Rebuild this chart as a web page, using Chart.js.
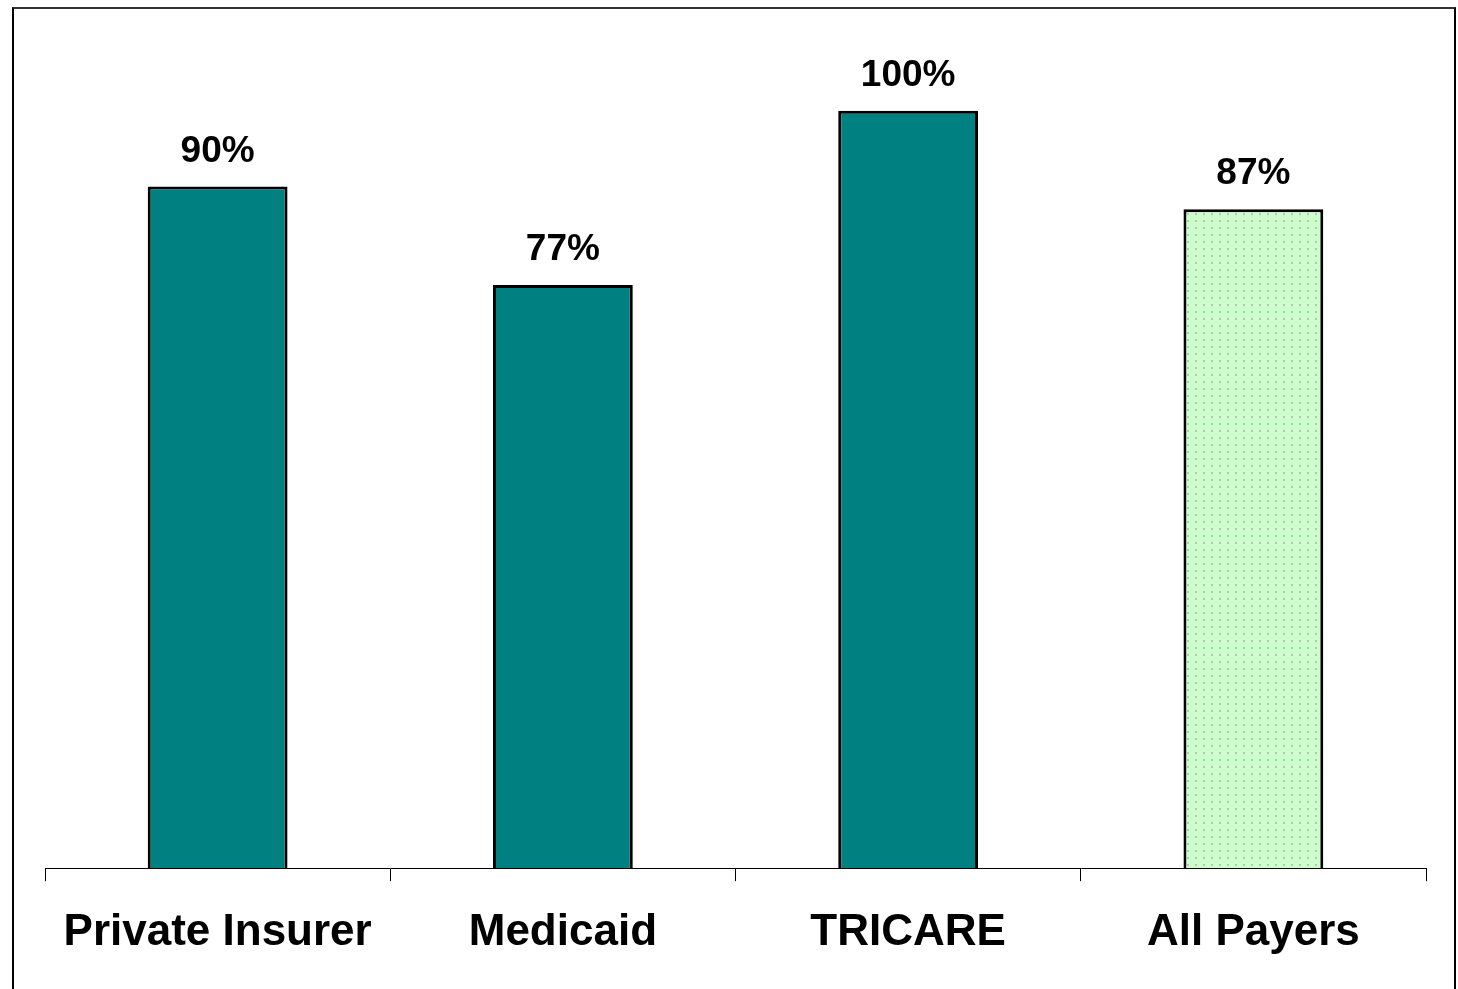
<!DOCTYPE html>
<html>
<head>
<meta charset="utf-8">
<script src="https://cdn.jsdelivr.net/npm/chart.js@4.4.0/dist/chart.umd.min.js"></script>
<style>
    html, body { margin: 0; padding: 0; background: #fff; }
    #wrap { position: absolute; left: 12px; top: 7px; width: 1444px; height: 990px;
            border-left: 2px solid #000; border-top: 2px solid #333; border-right: 2px solid #000;
            box-sizing: border-box; }
    #c { position: absolute; left: 0; top: 0; }
</style>
</head>
<body>
<div id="wrap"></div>
<canvas id="c" width="1458" height="989"></canvas>
<script>
const categories = ['Private Insurer', 'Medicaid', 'TRICARE', 'All Payers'];
const values = [90, 77, 100, 87];
const valueLabels = ['90%', '77%', '100%', '87%'];

// dotted light green fill for the "All Payers" bar
function dotPattern() {
    const p = document.createElement('canvas');
    p.width = 8; p.height = 7;
    const g = p.getContext('2d');
    g.fillStyle = '#ccffcc';
    g.fillRect(0, 0, 8, 7);
    g.fillStyle = '#b4c8b4';
    g.fillRect(3, 3, 2, 2);
    const ctx = document.getElementById('c').getContext('2d');
    return ctx.createPattern(p, 'repeat');
}

const teal = '#008080';
const fills = [teal, teal, teal, dotPattern()];

// draw the percentage above each bar
const valueLabelPlugin = {
    id: 'valueLabels',
    afterDatasetsDraw(chart) {
        const ctx = chart.ctx;
        const meta = chart.getDatasetMeta(0);
        ctx.save();
        ctx.font = 'bold 37px "Liberation Sans", Arial, sans-serif';
        ctx.fillStyle = '#000';
        ctx.textAlign = 'center';
        ctx.textBaseline = 'middle';
        meta.data.forEach((bar, i) => {
            ctx.fillText(valueLabels[i], bar.x, bar.y - 35);
        });
        ctx.restore();
    }
};

new Chart(document.getElementById('c'), {
    type: 'bar',
    data: {
        labels: categories,
        datasets: [{
            data: values,
            backgroundColor: fills,
            borderColor: '#000',
            borderWidth: 3,
            borderSkipped: 'bottom',
            categoryPercentage: 1,
            barPercentage: 0.405
        }]
    },
    options: {
        responsive: false,
        animation: false,
        layout: { padding: { left: 45, right: 32, top: 35, bottom: 5 } },
        plugins: { legend: { display: false }, tooltip: { enabled: false } },
        scales: {
            x: {
                grid: { display: true, drawOnChartArea: false, drawTicks: true, tickLength: 13, color: '#000', offset: true },
                border: { display: true, color: '#000', width: 1 },
                ticks: {
                    color: '#000',
                    padding: 25,
                    font: { family: '"Liberation Sans", Arial, sans-serif', size: 44, weight: 'bold' }
                }
            },
            y: {
                display: false,
                min: 0,
                max: 110
            }
        }
    },
    plugins: [valueLabelPlugin]
});
</script>
</body>
</html>
